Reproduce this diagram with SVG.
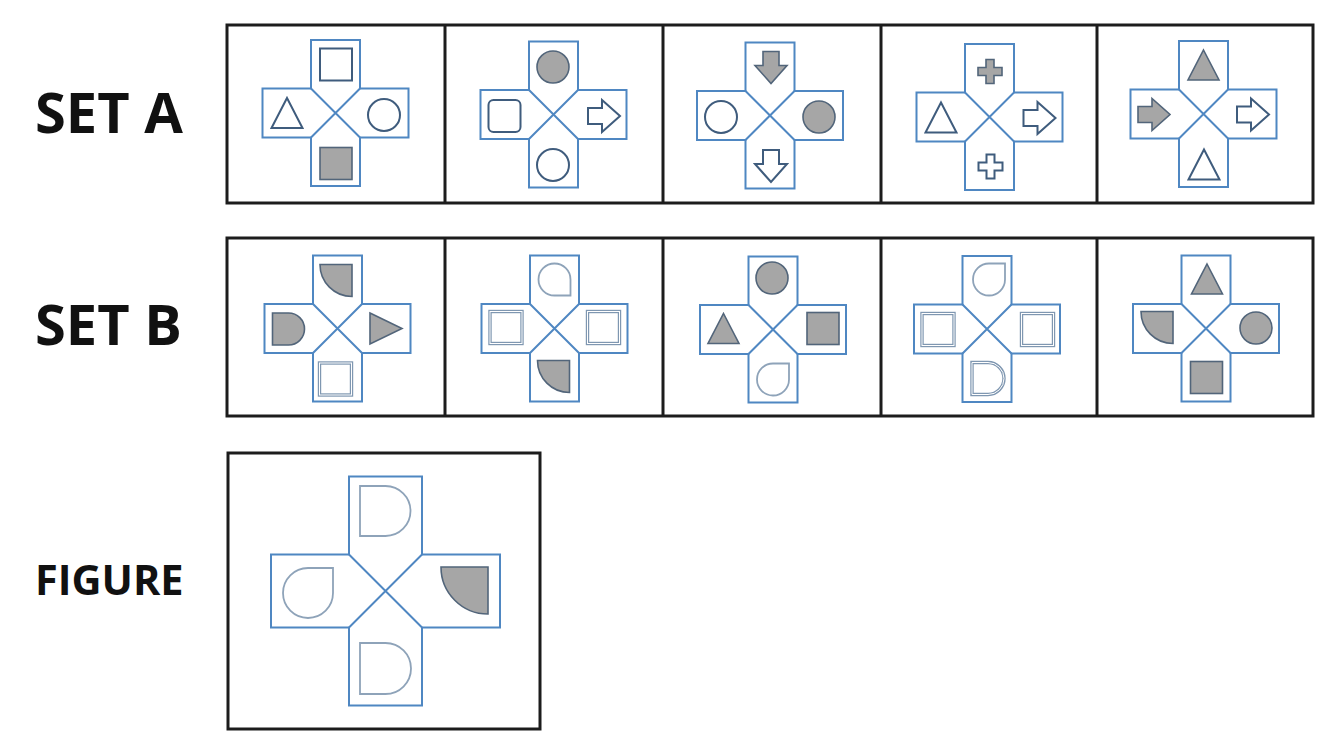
<svg xmlns="http://www.w3.org/2000/svg" xmlns:xlink="http://www.w3.org/1999/xlink" width="1328" height="745" viewBox="0 0 1328 745">
<style>
.frame{fill:none;stroke:#1c1c1c;stroke-width:3}
.cross{fill:#fff;stroke:#4f87c2;stroke-width:2;stroke-linejoin:miter}
.diag{fill:none;stroke:#4f87c2;stroke-width:2}
.o{fill:#fff;stroke:#3f5c7d;stroke-width:2;stroke-linejoin:miter}
.f{fill:#a6a6a6;stroke:#52657a;stroke-width:1.6;stroke-linejoin:miter}
.l{fill:#fff;stroke:#8ea3b9;stroke-width:1.8}
.d1{fill:#fff;stroke:#7f97b1;stroke-width:3.4}
.d2{fill:none;stroke:#fff;stroke-width:1}
.lbl{font-family:"Open Sans","Liberation Sans",sans-serif;font-weight:bold;fill:#111}
</style>
<defs>
<g id="cr">
<path class="cross" d="M-24.5,-73 H24.5 V-24.5 H73 V24.5 H24.5 V73 H-24.5 V24.5 H-73 V-24.5 H-24.5 Z"/>
<path class="diag" d="M-24.5,-24.5 L24.5,24.5 M24.5,-24.5 L-24.5,24.5"/>
</g>
<rect id="sq" x="-16" y="-16" width="32" height="32"/>
<rect id="rsq" x="-16" y="-16" width="32" height="32" rx="5"/>
<circle id="ci" r="16"/>
<path id="tri" d="M0,-15 L15.5,15 L-15.5,15 Z"/>
<path id="triR" d="M-16,-15.5 L16,0 L-16,15.5 Z"/>
<path id="arR" d="M-16,-8 H-2 V-16 L16,0 L-2,16 V8 H-16 Z"/>
<path id="arD" d="M-8,-16 V-2 H-16 L0,16 L16,-2 H8 V-16 Z"/>
<path id="pl" d="M-4,-12 H4 V-4 H12 V4 H4 V12 H-4 V4 H-12 V-4 H-4 Z"/>
<path id="qc" d="M16,-16 V16 A32,32 0 0 1 -16,-16 Z"/>
<path id="dd" d="M-16,-16 H0 A16,16 0 0 1 0,16 H-16 Z"/>
<path id="dropTR" d="M0,-16 H16 V0 A16,16 0 1 1 0,-16 Z"/>
<path id="dropBR" d="M16,0 V16 H0 A16,16 0 1 1 16,0 Z"/>
</defs>

<g id="labels">
<text class="lbl" x="35" y="133" font-size="56">SET A</text>
<text class="lbl" x="35" y="345" font-size="56">SET B</text>
<text class="lbl" x="35" y="595" font-size="41.5">FIGURE</text>
</g>

<g id="frames">
<rect class="frame" x="227" y="25" width="1086" height="178"/>
<path class="frame" d="M445,25 V203 M663,25 V203 M881,25 V203 M1097,25 V203"/>
<rect class="frame" x="227" y="238" width="1086" height="178"/>
<path class="frame" d="M445,238 V416 M663,238 V416 M881,238 V416 M1097,238 V416"/>
<rect class="frame" x="228" y="453" width="312" height="276"/>
</g>

<g id="setA-1">
<use href="#cr" x="335.5" y="113"/>
<use href="#sq" class="o" x="336" y="64.5"/>
<use href="#tri" class="o" x="287" y="113"/>
<use href="#ci" class="o" x="384" y="115"/>
<use href="#sq" class="f" x="336" y="163.5"/>
</g>
<g id="setA-2">
<use href="#cr" x="553.5" y="114.5"/>
<use href="#ci" class="f" x="553" y="67"/>
<use href="#rsq" class="o" x="504.5" y="116"/>
<use href="#arR" class="o" x="604" y="116"/>
<use href="#ci" class="o" x="553" y="165"/>
</g>
<g id="setA-3">
<use href="#cr" x="770" y="115.5"/>
<use href="#arD" class="f" x="771" y="67.5"/>
<use href="#ci" class="o" x="721" y="117"/>
<use href="#ci" class="f" x="819" y="117"/>
<use href="#arD" class="o" x="771" y="166"/>
</g>
<g id="setA-4">
<use href="#cr" x="989.5" y="117"/>
<use href="#pl" class="f" x="990" y="71.5"/>
<use href="#tri" class="o" x="941" y="117.5"/>
<use href="#arR" class="o" x="1039.5" y="118"/>
<use href="#pl" class="o" x="990.5" y="166.5"/>
</g>
<g id="setA-5">
<use href="#cr" x="1203.5" y="114"/>
<use href="#tri" class="f" x="1203.5" y="65"/>
<use href="#arR" class="f" x="1154" y="114.5"/>
<use href="#arR" class="o" x="1253" y="114.5"/>
<use href="#tri" class="o" x="1204" y="164.5"/>
</g>

<g id="setB-1">
<use href="#cr" x="337.5" y="328.5"/>
<use href="#qc" class="f" x="336" y="280.5"/>
<use href="#dd" class="f" x="288.5" y="329"/>
<use href="#triR" class="f" x="386" y="328.5"/>
<use href="#sq" class="d1" x="335.5" y="379"/>
<use href="#sq" class="d2" x="335.5" y="379"/>
</g>
<g id="setB-2">
<use href="#cr" x="554.5" y="328.5"/>
<use href="#dropBR" class="l" x="554.5" y="279.5"/>
<use href="#sq" class="d1" x="506" y="327.5"/>
<use href="#sq" class="d2" x="506" y="327.5"/>
<use href="#sq" class="d1" x="603.5" y="327.5"/>
<use href="#sq" class="d2" x="603.5" y="327.5"/>
<use href="#qc" class="f" x="553.5" y="376.5"/>
</g>
<g id="setB-3">
<use href="#cr" x="773" y="329.5"/>
<use href="#ci" class="f" x="772" y="278"/>
<use href="#tri" class="f" x="723.5" y="328.5"/>
<use href="#sq" class="f" x="823" y="328.5"/>
<use href="#dropTR" class="l" x="773" y="379.5"/>
</g>
<g id="setB-4">
<use href="#cr" x="987" y="329"/>
<use href="#dropTR" class="l" x="989" y="279.5"/>
<use href="#sq" class="d1" x="938" y="329.5"/>
<use href="#sq" class="d2" x="938" y="329.5"/>
<use href="#sq" class="d1" x="1037.5" y="329.5"/>
<use href="#sq" class="d2" x="1037.5" y="329.5"/>
<use href="#dd" class="d1" x="988" y="378.5"/>
<use href="#dd" class="d2" x="988" y="378.5"/>
</g>
<g id="setB-5">
<use href="#cr" x="1206" y="328.5"/>
<use href="#tri" class="f" x="1207" y="279"/>
<use href="#qc" class="f" x="1157" y="327.5"/>
<use href="#ci" class="f" x="1256" y="328"/>
<use href="#sq" class="f" x="1206.5" y="377.5"/>
</g>

<g id="figure">
<path class="cross" d="M349,476.5 H422 V554.5 H500 V627.5 H422 V705.5 H349 V627.5 H271 V554.5 H349 Z"/>
<path class="diag" d="M349,554.5 L422,627.5 M422,554.5 L349,627.5"/>
<path class="l" d="M360,486 H385.5 A25,25 0 0 1 385.5,536 H360 Z"/>
<path class="l" d="M360,643 H385.5 A25.5,25.5 0 0 1 385.5,694 H360 Z"/>
<path class="l" d="M308,568 H333 V593 A25,25 0 1 1 308,568 Z"/>
<path class="f" d="M488,567 V614 A47,47 0 0 1 441,567 Z"/>
</g>
</svg>
